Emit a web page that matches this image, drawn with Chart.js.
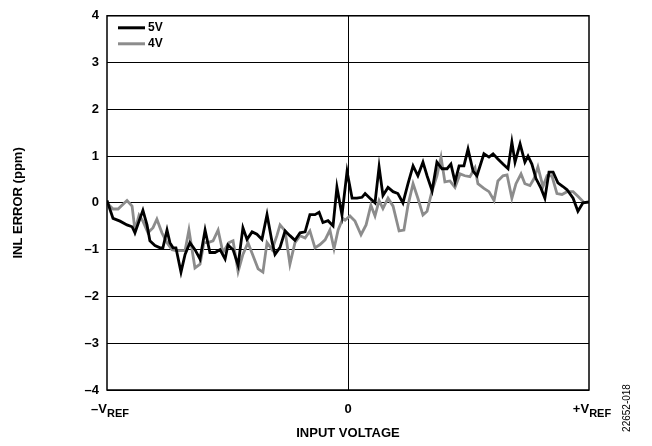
<!DOCTYPE html>
<html>
<head>
<meta charset="utf-8">
<script src="https://cdn.jsdelivr.net/npm/chart.js@4/dist/chart.umd.min.js"></script>
<style>
html,body{margin:0;padding:0;background:#fff;}
canvas{display:block;}
</style>
</head>
<body>
<canvas id="c" width="652" height="446"></canvas>
<script>
// Input voltage in units of VREF (-1 = -VREF, +1 = +VREF)
const x5V = [-1.000,-0.975,-0.946,-0.917,-0.896,-0.884,-0.867,-0.851,-0.834,-0.822,-0.801,-0.780,-0.768,-0.751,-0.739,-0.726,-0.714,-0.693,-0.676,-0.656,-0.635,-0.614,-0.593,-0.573,-0.552,-0.531,-0.510,-0.498,-0.477,-0.456,-0.436,-0.419,-0.398,-0.378,-0.357,-0.336,-0.315,-0.303,-0.282,-0.261,-0.241,-0.220,-0.199,-0.178,-0.158,-0.137,-0.120,-0.104,-0.083,-0.062,-0.046,-0.025,-0.004,0.017,0.037,0.058,0.071,0.091,0.112,0.129,0.145,0.166,0.187,0.207,0.228,0.249,0.270,0.290,0.311,0.328,0.349,0.369,0.390,0.411,0.427,0.444,0.461,0.481,0.498,0.519,0.535,0.564,0.585,0.602,0.622,0.643,0.664,0.680,0.693,0.714,0.734,0.747,0.763,0.780,0.801,0.817,0.834,0.851,0.871,0.892,0.909,0.934,0.954,0.975,1.000];
const inl5V = [0.05,-0.33,-0.39,-0.47,-0.51,-0.64,-0.39,-0.16,-0.47,-0.81,-0.91,-0.96,-0.96,-0.58,-0.85,-0.96,-0.96,-1.48,-1.10,-0.85,-1.00,-1.20,-0.58,-1.06,-1.06,-1.00,-1.20,-0.90,-1.00,-1.33,-0.53,-0.78,-0.62,-0.67,-0.78,-0.25,-0.84,-1.10,-0.95,-0.60,-0.70,-0.80,-0.64,-0.62,-0.25,-0.25,-0.20,-0.42,-0.38,-0.49,0.34,-0.26,0.67,0.10,0.10,0.12,0.20,0.10,0.00,0.77,0.16,0.33,0.24,0.20,0.00,0.41,0.79,0.58,0.87,0.58,0.26,0.87,0.73,0.73,0.83,0.45,0.79,0.79,1.15,0.68,0.58,1.05,0.98,1.05,0.94,0.83,0.73,1.30,0.87,1.26,0.87,1.00,0.83,0.52,0.31,0.10,0.66,0.66,0.43,0.35,0.28,0.10,-0.18,0.00,0.02];
const x4V = [-1.000,-0.975,-0.954,-0.917,-0.896,-0.884,-0.867,-0.851,-0.830,-0.809,-0.793,-0.772,-0.751,-0.730,-0.714,-0.697,-0.676,-0.660,-0.635,-0.614,-0.598,-0.581,-0.560,-0.539,-0.519,-0.494,-0.477,-0.456,-0.436,-0.415,-0.394,-0.373,-0.353,-0.336,-0.315,-0.295,-0.282,-0.261,-0.241,-0.220,-0.199,-0.178,-0.158,-0.137,-0.116,-0.095,-0.075,-0.058,-0.041,-0.021,-0.012,0.008,0.029,0.054,0.075,0.095,0.112,0.129,0.145,0.166,0.187,0.212,0.232,0.249,0.270,0.290,0.311,0.328,0.349,0.369,0.386,0.402,0.423,0.444,0.465,0.485,0.506,0.527,0.539,0.564,0.585,0.606,0.622,0.643,0.660,0.680,0.697,0.718,0.734,0.755,0.772,0.788,0.809,0.826,0.846,0.867,0.888,0.909,0.934,0.954,0.979];
const inl4V = [0.00,-0.13,-0.13,0.05,-0.07,-0.58,-0.26,-0.39,-0.64,-0.53,-0.35,-0.64,-0.85,-1.00,-1.02,-1.02,-1.02,-0.58,-1.39,-1.31,-0.85,-0.85,-0.81,-0.58,-1.06,-0.85,-0.81,-1.47,-1.10,-0.85,-1.13,-1.41,-1.48,-0.85,-1.00,-0.70,-0.47,-0.60,-1.31,-0.85,-0.70,-0.75,-0.60,-0.96,-0.89,-0.79,-0.58,-0.98,-0.58,-0.33,-0.37,-0.28,-0.39,-0.68,-0.47,-0.05,-0.28,0.05,-0.12,0.10,-0.07,-0.60,-0.58,-0.05,0.41,0.10,-0.26,-0.18,0.26,0.58,0.98,0.45,0.47,0.33,0.62,0.58,0.56,0.75,0.41,0.31,0.24,0.05,0.47,0.58,0.60,0.10,0.41,0.62,0.41,0.37,0.52,0.77,0.35,0.58,0.58,0.20,0.18,0.24,0.24,0.14,0.01];
const seriesNames = ['5V','4V'];
const xTickLabels = {'-1':['–V','REF'], '0':['0',''], '1':['+V','REF']};
const yTicks = [-4,-3,-2,-1,0,1,2,3,4];

const FONT = '"Liberation Sans", Arial, sans-serif';
const toPts = (xs, ys) => xs.map((v,i)=>({x:v, y:ys[i]}));

const decor = {
  id:'decor',
  beforeDatasetsDraw(chart){
    const {ctx, chartArea:a} = chart;
    ctx.save();
    ctx.strokeStyle = '#000'; ctx.lineWidth = 1.5;
    ctx.strokeRect(a.left, a.top, a.right-a.left, a.bottom-a.top);
    ctx.restore();
  },
  afterDraw(chart){
    const {ctx, chartArea:a, scales:{x}} = chart;
    ctx.save();
    ctx.fillStyle = '#000';
    Object.keys(xTickLabels).forEach(k=>{
      const [main, sub] = xTickLabels[k];
      ctx.font = 'bold 13px ' + FONT;
      const w1 = ctx.measureText(main).width;
      ctx.font = 'bold 11px ' + FONT;
      const w2 = sub ? ctx.measureText(sub).width : 0;
      const px = x.getPixelForValue(parseFloat(k));
      let sx = px - (w1+w2)/2 + (sub ? 3 : 0);
      ctx.textBaseline = 'alphabetic'; ctx.textAlign = 'left';
      ctx.font = 'bold 13px ' + FONT;
      ctx.fillText(main, sx, a.bottom + 23);
      if (sub){ ctx.font = 'bold 11px ' + FONT; ctx.fillText(sub, sx + w1, a.bottom + 27); }
    });
    ctx.font = 'bold 13px ' + FONT;
    ctx.textAlign = 'center'; ctx.textBaseline = 'middle';
    ctx.fillText('INPUT VOLTAGE', (a.left+a.right)/2, 433);
    ctx.save();
    ctx.translate(18, (a.top+a.bottom)/2); ctx.rotate(-Math.PI/2);
    ctx.fillText('INL ERROR (ppm)', 0, 0);
    ctx.restore();
    ctx.save();
    ctx.font = '10px ' + FONT;
    ctx.translate(627, 408); ctx.rotate(-Math.PI/2);
    ctx.fillText('22652-018', 0, 0);
    ctx.restore();
    chart.data.datasets.forEach((ds,i)=>{
      const ly = a.top + 12 + i*16;
      ctx.strokeStyle = ds.borderColor; ctx.lineWidth = 3;
      ctx.beginPath(); ctx.moveTo(a.left+11, ly); ctx.lineTo(a.left+38, ly); ctx.stroke();
      ctx.font = 'bold 12px ' + FONT; ctx.textAlign = 'left'; ctx.textBaseline = 'middle';
      ctx.fillText(ds.label, a.left+41, ly);
    });
    ctx.restore();
  }
};

new Chart(document.getElementById('c'), {
  type:'line',
  data:{ datasets:[
    {label:seriesNames[0], data:toPts(x5V,inl5V), borderColor:'#000000', borderWidth:2.8, pointRadius:0, tension:0, fill:false},
    {label:seriesNames[1], data:toPts(x4V,inl4V), borderColor:'#8c8c8c', borderWidth:2.8, pointRadius:0, tension:0, fill:false}
  ]},
  options:{
    responsive:false, animation:false, devicePixelRatio:1,
    layout:{padding:{left:0, top:9, right:63, bottom:0}},
    plugins:{legend:{display:false}, tooltip:{enabled:false}},
    scales:{
      x:{type:'linear', min:-1, max:1,
        ticks:{stepSize:1, display:false},
        grid:{drawTicks:false, color:c=>c.tick && c.tick.value===0 ? '#000' : 'rgba(0,0,0,0)', lineWidth:1},
        border:{display:false},
        afterFit(s){ s.height = 56; }
      },
      y:{type:'linear', min:-4, max:4,
        afterBuildTicks(s){ s.ticks = yTicks.map(v=>({value:v})); },
        ticks:{color:'#000', padding:8, font:{family:FONT, size:13, weight:'bold'},
          callback:v=> v<0 ? '–'+Math.abs(v) : String(v)},
        grid:{drawTicks:false, color:'#000', lineWidth:1},
        border:{display:false},
        afterFit(s){ s.width = 107; }
      }
    }
  },
  plugins:[decor]
});
</script>
</body>
</html>
